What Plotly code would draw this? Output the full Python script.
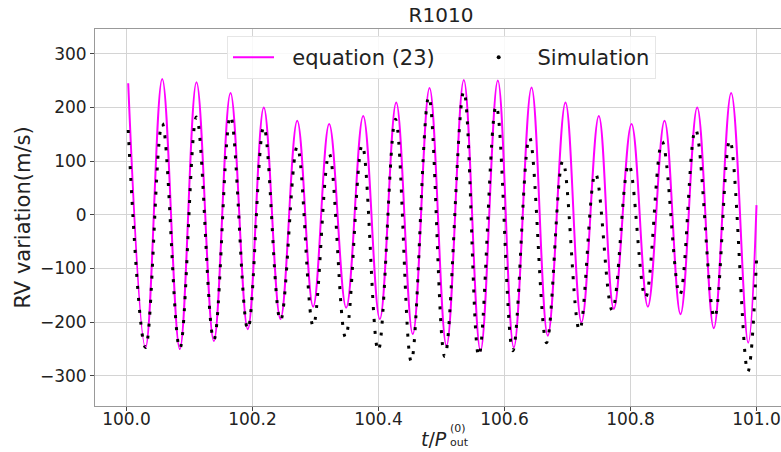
import plotly.graph_objects as go

# ---- data (extrema of each oscillation) ----
eq_t = [100.0027, 100.0302, 100.0567, 100.0846, 100.1111, 100.1386, 100.1651,
        100.1925, 100.2179, 100.2444, 100.2710, 100.2963, 100.3217, 100.3487, 100.3757,
        100.4021, 100.4281, 100.4544, 100.4810, 100.5079, 100.5354, 100.5619, 100.5894,
        100.6148, 100.6429, 100.6687, 100.6968, 100.7222, 100.7497, 100.7735, 100.8016,
        100.8275, 100.8540, 100.8794, 100.9059, 100.9322, 100.9598, 100.9868, 101.0000]
eq_v = [245, -247, 253, -250, 247, -235, 227, -213, 200, -194, 175, -171, 169,
        -173, 184, -194, 209, -222, 236, -244, 251, -253, 250, -247, 237, -225, 209,
        -200, 184, -175, 169, -171, 175, -185, 200, -211, 227, -238, 18]

sim_t = [100.0027, 100.0302, 100.0567, 100.0846, 100.1111, 100.1386, 100.1651,
         100.1925, 100.2179, 100.2444, 100.2710, 100.2963, 100.3217, 100.3476, 100.3741,
         100.3995, 100.4270, 100.4519, 100.4798, 100.5052, 100.5354, 100.5592, 100.5868,
         100.6132, 100.6397, 100.6667, 100.6925, 100.7190, 100.7444, 100.7710, 100.7973,
         100.8238, 100.8503, 100.8783, 100.9032, 100.9333, 100.9576, 100.9862, 101.0000]
sim_v = [158, -247, 170, -249, 182, -233, 184, -213, 164, -197, 127, -207, 114,
         -228, 130, -253, 178, -273, 220, -264, 230, -263, 203, -253, 144, -238, 100,
         -215, 77, -178, 94, -154, 136, -149, 159, -192, 139, -292, -85]

x_ticks = [100.0, 100.2, 100.4, 100.6, 100.8, 101.0]
x_tick_labels = ["100.0", "100.2", "100.4", "100.6", "100.8", "101.0"]
y_ticks = [-300, -200, -100, 0, 100, 200, 300]

W, H = 781, 452
L, R, T, B = 95, 0, 29, 46
pw = W - L - R
ph = H - T - B

NB = "\u00a0\u00a0"
TRAIL = "\u00a0" * 5

fig = go.Figure()
fig.add_trace(go.Scatter(
    x=eq_t, y=eq_v, mode="lines", name=NB + "equation (23)" + TRAIL,
    line=dict(color="#ff00ff", width=2, shape="spline", smoothing=1.1)))
fig.add_trace(go.Scatter(
    x=sim_t, y=sim_v, mode="lines", showlegend=False, name="Simulation",
    line=dict(color="black", width=3, shape="spline", smoothing=1.1, dash="3px,9px")))
fig.add_trace(go.Scatter(
    x=[None], y=[None], mode="markers", name=NB + "Simulation",
    marker=dict(color="black", size=4)))

font = "DejaVu Sans, Liberation Sans, sans-serif"
fig.update_layout(
    width=W, height=H,
    margin=dict(l=L, r=R, t=T, b=B, autoexpand=False),
    paper_bgcolor="white", plot_bgcolor="white",
    font=dict(family=font, size=17, color="#222"),
    title=dict(text="R1010", x=441 / W, xanchor="center", xref="container",
               y=1 - 15 / H, yanchor="middle", yref="container",
               font=dict(size=20, color="#222")),
    showlegend=True,
    legend=dict(orientation="h", x=(227 - L) / pw, y=1 - (36 - T) / ph,
                xanchor="left", yanchor="top",
                bgcolor="rgba(255,255,255,0.85)", bordercolor="#e6e6e6", borderwidth=1,
                font=dict(size=21, color="#222"), itemwidth=41),
    xaxis=dict(range=[99.95, 99.95 + pw / 630], tickvals=x_ticks, ticktext=x_tick_labels,
               automargin=False, ticklabelstandoff=-6,
               showgrid=True, gridcolor="#d4d4d4", gridwidth=1,
               showline=True, linecolor="#999", linewidth=1, mirror=True,
               ticks="outside", ticklen=4, tickcolor="#444", zeroline=False),
    yaxis=dict(range=[-356, 346], tickvals=y_ticks, automargin=False,
               showgrid=True, gridcolor="#d4d4d4", gridwidth=1,
               showline=True, linecolor="#999", linewidth=1, mirror=True,
               ticks="outside", ticklen=4, tickcolor="#444", zeroline=False,
               title=dict(text="RV variation(m/s)", font=dict(size=21, color="#222"),
                          standoff=3)),
)

# x-axis label t/P_out^(0) with stacked super/subscript
fig.add_annotation(text="<i>t</i>/<i>P</i>", xref="paper", yref="paper",
                   x=(449 - L) / pw, y=-(439 - (H - B)) / ph,
                   xanchor="right", yanchor="middle", showarrow=False,
                   font=dict(size=19, color="#222"))
fig.add_annotation(text="(0)<br>out", xref="paper", yref="paper",
                   x=(448 - L) / pw, y=-(436 - (H - B)) / ph,
                   xanchor="left", yanchor="middle", align="left", showarrow=False,
                   font=dict(size=11, color="#222"))

fig.write_html("out.html", config={"displayModeBar": False},
               post_script="document.body.style.margin='0px';")
